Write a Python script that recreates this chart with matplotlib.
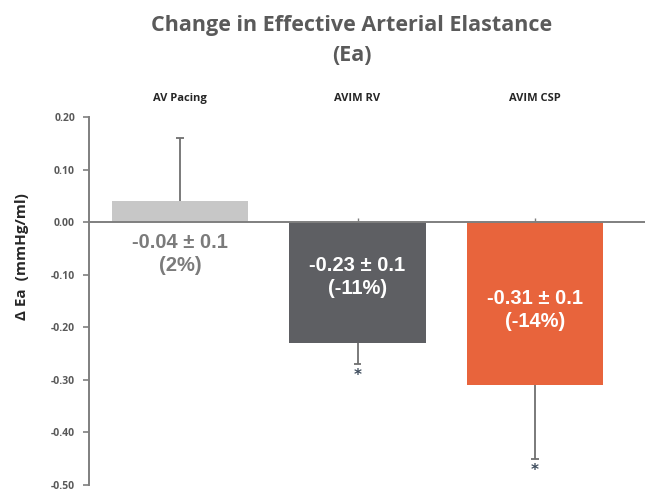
import matplotlib.pyplot as plt

groups = ['AV Pacing', 'AVIM RV', 'AVIM CSP']
delta_ea = [0.04, -0.23, -0.31]
err_up = [0.12, 0.0, 0.0]
err_down = [0.0, 0.04, 0.14]
bar_text = ['-0.04 ± 0.1\n(2%)', '-0.23 ± 0.1\n(-11%)', '-0.31 ± 0.1\n(-14%)']
significant = [False, True, True]
yticks = [0.20, 0.10, 0.00, -0.10, -0.20, -0.30, -0.40, -0.50]

colors = ['#c7c7c7', '#5e5f63', '#e8643c']
text_colors = ['#7b7b7b', 'white', 'white']
text_y = [-0.061, -0.104, -0.167]

fig = plt.figure(figsize=(6.45, 4.93), dpi=100)
ax = fig.add_axes([0.138, 0.0162, 0.862, 0.7465])

x = list(range(len(groups)))
ax.bar(x, delta_ea, width=0.77, color=colors, zorder=2)

# one-sided error bars: only the side pointing away from zero
for i in x:
    lo = delta_ea[i] - err_down[i]
    hi = delta_ea[i] + err_up[i]
    ax.vlines(i, lo, hi, color='#707070', linewidth=1.3, zorder=3)
    end = hi if err_up[i] > 0 else lo
    ax.hlines(end, i - 0.02, i + 0.02, color='#707070', linewidth=1.3, zorder=3)

for i in x:
    ax.text(i, text_y[i], bar_text[i], ha='center', va='center', fontsize=14.5,
            fontweight='bold', color=text_colors[i], family='Liberation Sans',
            linespacing=1.3, zorder=4)
    ax.text(i, 0.236, groups[i], ha='center', va='center', fontsize=8,
            fontweight='bold', color='#262626', family='Open Sans')
    if significant[i]:
        ax.text(i, delta_ea[i] - err_down[i] - 0.022, '*', ha='center', va='center',
                fontsize=11, fontweight='bold', color='#3d4b5c')

ax.set_xlim(-0.513, 2.62)
ax.set_ylim(-0.5, 0.2)
ax.set_yticks(yticks)
ax.set_yticklabels([f'{v:.2f}' for v in yticks], fontsize=7.5, fontweight='bold',
                   color='#595959', family='Open Sans')
ax.tick_params(axis='y', length=4, width=1.2, color='#7f7f7f', pad=6)

# zero line with small inward ticks at each bar
ax.spines['bottom'].set_position(('data', 0))
ax.spines['bottom'].set_color('#7f7f7f')
ax.spines['bottom'].set_linewidth(1.4)
ax.spines['bottom'].set_zorder(5)
ax.set_xticks(x)
ax.set_xticklabels([])
ax.tick_params(axis='x', direction='in', length=3, width=1, color='#7f7f7f')
ax.spines['left'].set_color('#7f7f7f')
ax.spines['left'].set_linewidth(1.4)
ax.spines['top'].set_visible(False)
ax.spines['right'].set_visible(False)

ax.set_ylabel('Δ Ea  (mmHg/ml)', fontsize=11, fontweight='bold', color='#262626',
              family='Open Sans')
ax.yaxis.set_label_coords(-0.108, 0.62)

fig.text(0.545, 0.949, 'Change in Effective Arterial Elastance', ha='center', va='center',
         fontsize=15.5, fontweight='bold', color='#5a5a5a', family='Open Sans')
fig.text(0.545, 0.888, '(Ea)', ha='center', va='center',
         fontsize=15.5, fontweight='bold', color='#5a5a5a', family='Open Sans')

fig.savefig('out.png', dpi=100)
